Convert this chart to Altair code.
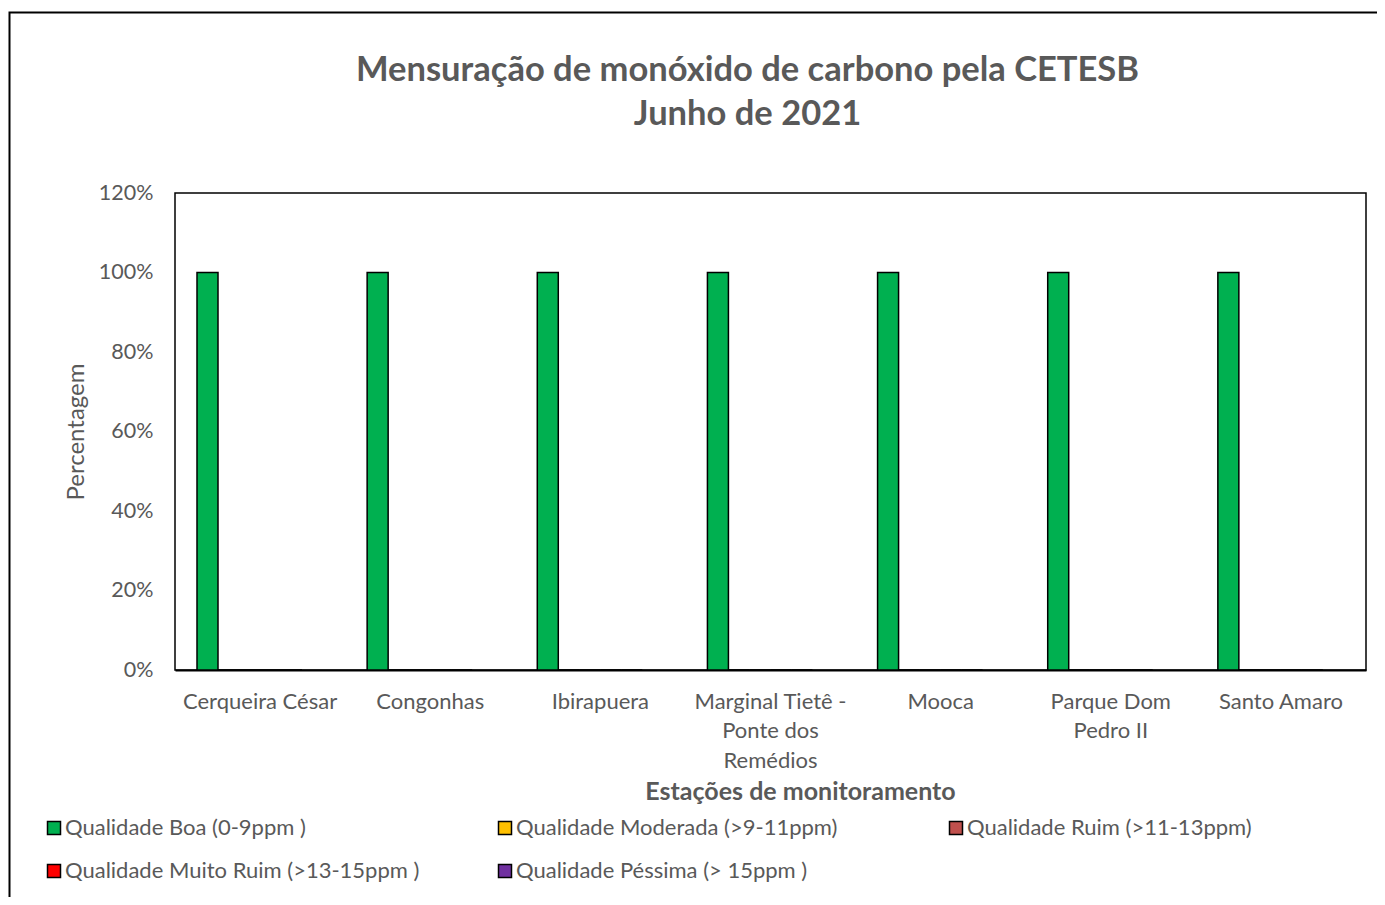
import altair as alt
import pandas as pd

stations = ["Cerqueira César", "Congonhas", "Ibirapuera",
            "Marginal Tietê - Ponte dos Remédios", "Mooca",
            "Parque Dom Pedro II", "Santo Amaro"]
station_lines = [["Cerqueira César"], ["Congonhas"], ["Ibirapuera"],
                 ["Marginal Tietê -", "Ponte dos", "Remédios"], ["Mooca"],
                 ["Parque Dom", "Pedro II"], ["Santo Amaro"]]
series = ["Qualidade Boa  (0-9ppm )", "Qualidade Moderada (>9-11ppm)",
          "Qualidade Ruim (>11-13ppm)", "Qualidade Muito Ruim (>13-15ppm )",
          "Qualidade Péssima  (> 15ppm )"]
colors = ["#00B050", "#FFC000", "#C0504D", "#FF0000", "#7030A0"]

boa = [1.0, 1.0, 1.0, 1.0, 1.0, 1.0, 1.0]
moderada = [0, 0, 0, 0, 0, 0, 0]
ruim = [0, 0, 0, 0, 0, 0, 0]
muito_ruim = [0, 0, 0, 0, 0, 0, 0]
pessima = [0, 0, 0, 0, 0, 0, 0]

rows = []
for s, vals in zip(series, [boa, moderada, ruim, muito_ruim, pessima]):
    for st, v in zip(stations, vals):
        rows.append({"Estação": st, "Série": s, "Valor": v})
df = pd.DataFrame(rows)

label_expr = ""
for st, lines in zip(stations, station_lines):
    if len(lines) > 1:
        arr = "[" + ",".join("'" + l + "'" for l in lines) + "]"
        label_expr += f"datum.label == '{st}' ? {arr} : "
label_expr += "datum.label"

FONT = "Lato"
GRAY = "#595959"

bars = alt.Chart(df).mark_bar(stroke="black", strokeWidth=1.5).encode(
    x=alt.X("Estação:N", sort=stations,
            scale=alt.Scale(paddingInner=0, paddingOuter=0),
            axis=alt.Axis(title="Estações de monitoramento", labelAngle=0,
                          labelExpr=label_expr, labelLineHeight=29.5,
                          labelFontSize=22, labelColor=GRAY, labelFont=FONT,
                          labelPadding=21, labelBaseline="top",
                          ticks=False, domain=True, domainColor="black",
                          domainWidth=2, titleFont=FONT, titleFontSize=25,
                          titleFontWeight="bold", titleColor=GRAY,
                          titleX=625, titleY=121, titleBaseline="middle",
                          labelLimit=220)),
    xOffset=alt.XOffset("Série:N", sort=series,
                        scale=alt.Scale(paddingInner=0, paddingOuter=0, range=[22, 127])),
    y=alt.Y("Valor:Q", scale=alt.Scale(domain=[0, 1.2]),
            axis=alt.Axis(title="Percentagem", format=".0%", values=[0, 0.2, 0.4, 0.6, 0.8, 1.0, 1.2],
                          grid=False, ticks=False, domain=False,
                          labelFontSize=21.5, labelColor=GRAY, labelFont=FONT,
                          labelPadding=22, titleFont=FONT, titleFontSize=24,
                          titleFontWeight="normal", titleColor=GRAY,
                          titleX=-99, titleBaseline="middle")),
    color=alt.Color("Série:N", scale=alt.Scale(domain=series, range=colors),
                    legend=alt.Legend(title=None, orient="none", legendX=-132, legendY=624,
                                      direction="horizontal",
                                      columns=3, gridAlign="all", columnPadding=74,
                                      rowPadding=21, symbolType="square", symbolSize=169,
                                      symbolStrokeColor="black", symbolStrokeWidth=1.5,
                                      labelFont=FONT, labelFontSize=22, labelColor=GRAY,
                                      labelOffset=0, labelLimit=500)),
)

frame = alt.Chart(alt.Data(values=[{}])).mark_rect(
    fill=None, fillOpacity=0, stroke="black", strokeWidth=2, clip=False
).encode(x=alt.value(-165.5), x2=alt.value(1205), y=alt.value(-180.5), y2=alt.value(720))

chart = alt.layer(frame, bars).properties(
    width=1191, height=477,
    background="white",
    autosize=alt.AutoSizeParams(type="none"),
    padding={"left": 167, "top": 185, "right": 11, "bottom": 227},
    title=alt.Title(["Mensuração de monóxido de carbono pela CETESB", "Junho de 2021"],
                    font=FONT, fontSize=34.5, fontWeight="bold", color=GRAY,
                    lineHeight=44, offset=-121, dx=-23, anchor="middle"),
).configure_view(stroke="black", strokeWidth=1.5)

chart.save("out.html", embed_options={"renderer": "svg", "actions": False})
